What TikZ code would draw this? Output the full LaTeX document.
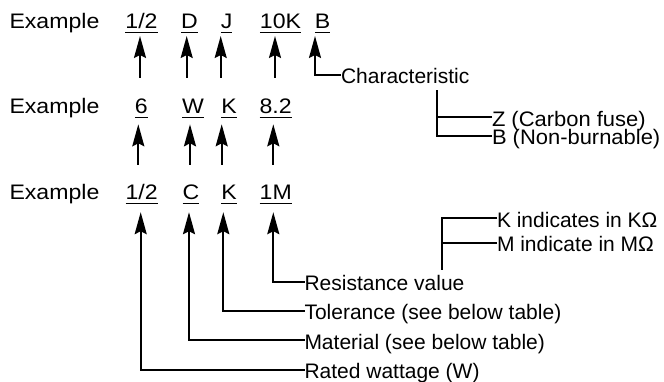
\documentclass[tikz,border=0pt]{standalone}
\usepackage{graphicx}
\usepackage{fontspec}
\setmainfont{Liberation Sans}
\usetikzlibrary{arrows.meta}
\newcommand{\rowtext}[1]{\scalebox{1.1}[1]{#1}}
\newcommand{\widetext}[1]{\scalebox{1.045}[1]{#1}}
\tikzset{
  txt/.style={inner sep=0pt, outer sep=0pt, anchor=base west, text depth=0pt,
    font=\fontsize{21}{25}\selectfont},
  rowtxt/.style={inner sep=0pt, outer sep=0pt, anchor=base west, text depth=0pt,
    font=\fontsize{21}{25}\selectfont},
  itemA/.style={inner sep=0pt, outer xsep=0pt, outer ysep=7.5pt, anchor=base, text depth=0pt,
    font=\fontsize{21}{25}\selectfont},
  itemB/.style={itemA, outer ysep=10.3pt},
  itemC/.style={itemA, outer ysep=12.5pt},
  arr/.style={line width=2pt, -{Stealth[length=22pt, width=12pt, inset=3pt]}},
  ln/.style={line width=2pt},
  ulline/.style={line width=1.3pt},
}
\begin{document}
\begin{tikzpicture}[x=1pt, y=-1pt]
\useasboundingbox (0,0) rectangle (664,382);
% Row 1
\node[rowtxt] (ex1) at (9.5,28.5) {\rowtext{Example}};
\node[itemA] (i11) at (141.5,28.5) {\rowtext{1/2}};
\node[itemA] (i12) at (189.5,28.5) {\rowtext{D}};
\node[itemA] (i13) at (226.7,28.5) {\rowtext{J}};
\node[itemA] (i14) at (280.5,28.5) {\rowtext{10K}};
\node[itemA] (i15) at (322.5,28.5) {\rowtext{B}};
% Row 2
\node[rowtxt] (ex2) at (9.5,114) {\rowtext{Example}};
\node[itemB] (i21) at (141.3,114) {\rowtext{6}};
\node[itemB] (i22) at (193,114) {\rowtext{W}};
\node[itemB] (i23) at (229,114) {\rowtext{K}};
\node[itemB] (i24) at (275.7,114) {\rowtext{8.2}};
% Row 3
\node[rowtxt] (ex3) at (9.5,199.7) {\rowtext{Example}};
\node[itemC] (i31) at (141.7,199.7) {\rowtext{1/2}};
\node[itemC] (i32) at (191,199.7) {\rowtext{C}};
\node[itemC] (i33) at (229,199.7) {\rowtext{K}};
\node[itemC] (i34) at (275.7,199.7) {\rowtext{1M}};
% underlines
\foreach \n in {i11,i12,i13,i14,i15,i21,i22,i23,i24,i31,i32,i33,i34}
  \draw[ulline] ([yshift=-3.7pt]\n.base west) -- ([yshift=-3.7pt]\n.base east);
% labels
\node[txt] (ch) at (341,84) {Characteristic};
\node[txt] (zt) at (492,126.5) {\widetext{Z (Carbon fuse)}};
\node[txt] (bt) at (492,145) {\widetext{B (Non-burnable)}};
\node[txt] (kt) at (497,227.5) {K indicates in KΩ};
\node[txt] (mt) at (497,251.7) {M indicate in MΩ};
\node[txt] (rv) at (304.5,290.7) {Resistance value};
\node[txt] (tl) at (304.5,319.7) {Tolerance (see below table)};
\node[txt] (ma) at (304.5,349) {Material (see below table)};
\node[txt] (rw) at (304.5,378.5) {Rated wattage (W)};
% free ends
\coordinate (b11) at (140,78);
\coordinate (b12) at (186.7,78);
\coordinate (b13) at (220.7,78);
\coordinate (b14) at (275,78);
\coordinate (b21) at (138.3,165);
\coordinate (b22) at (190,165);
\coordinate (b23) at (221.7,165);
\coordinate (b24) at (273.3,165);
\coordinate (chtop) at (436.7,90);
\coordinate (rvtop) at (441.5,270);
% arrows row 1
\foreach \b/\i in {b11/i11,b12/i12,b13/i13,b14/i14}
  \draw[arr] (\b) -- (\b |- \i.south);
\draw[arr] ([yshift=9pt]ch.base west) -| ([xshift=-7.5pt]i15.south);
% arrows row 2
\foreach \b/\i in {b21/i21,b22/i22,b23/i23,b24/i24}
  \draw[arr] (\b) -- (\b |- \i.south);
% arrows row 3
\draw[arr] ([yshift=9pt]rv.base west) -| ([xshift=-2.4pt]i34.south);
\draw[arr] ([yshift=9pt]tl.base west) -| ([xshift=-5.7pt]i33.south);
\draw[arr] ([yshift=9pt]ma.base west) -| ([xshift=-2pt]i32.south);
\draw[arr] ([yshift=9pt]rw.base west) -| ([xshift=-1pt]i31.south);
% branches
\draw[ln] ([yshift=9pt]zt.base west) -- ([yshift=9pt]zt.base west -| chtop);
\draw[ln] ([yshift=9pt]bt.base west) -| (chtop);
\draw[ln] ([yshift=9pt]mt.base west) -- ([yshift=9pt]mt.base west -| rvtop);
\draw[ln] ([yshift=9pt]kt.base west) -| (rvtop);
\end{tikzpicture}
\end{document}
